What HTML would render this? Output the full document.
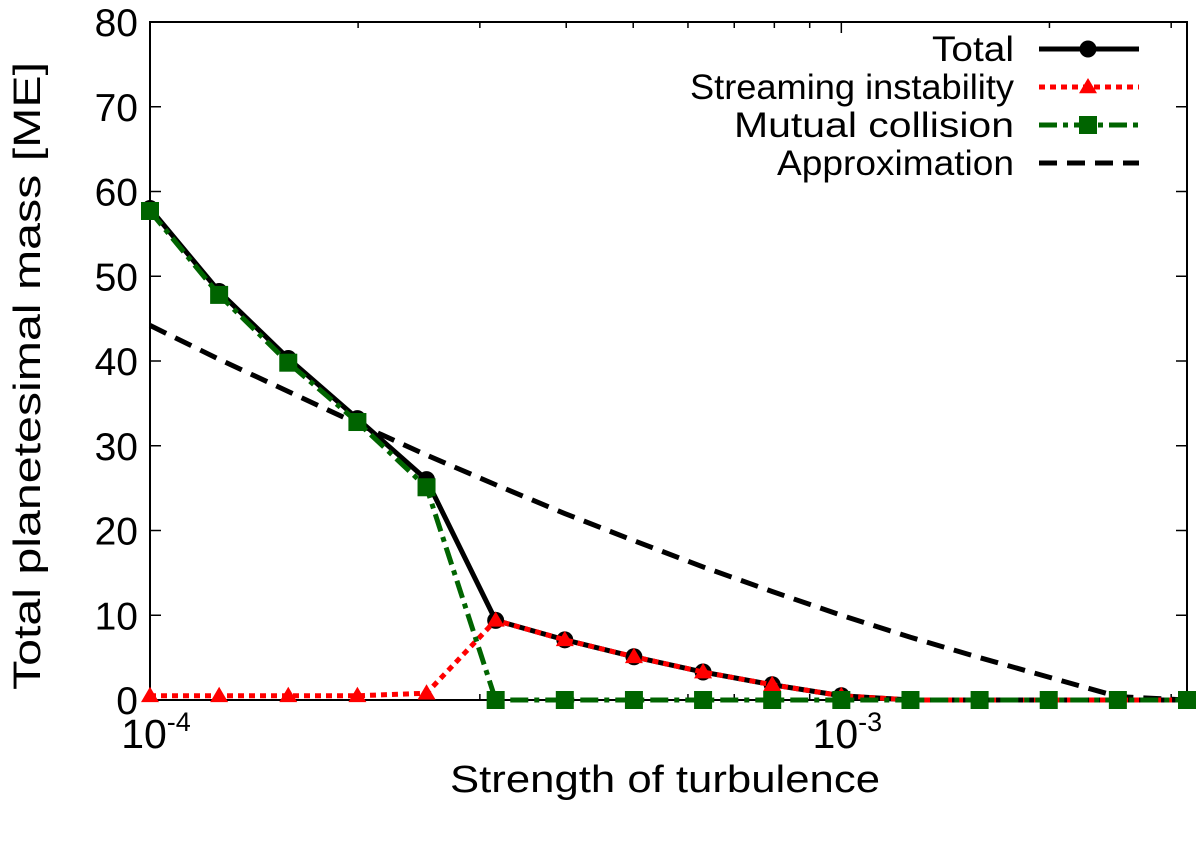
<!DOCTYPE html>
<html><head><meta charset="utf-8"><style>
body{margin:0;background:#fff}
svg text{font-family:"Liberation Sans",sans-serif;fill:#000}
</style></head><body>
<svg id="c" width="1200" height="840"></svg>
<script>
const alphaExp=[-4,-3.9,-3.8,-3.7,-3.6,-3.5,-3.4,-3.3,-3.2,-3.1,-3.0,-2.9,-2.8,-2.7,-2.6,-2.5];
const totalVals=[58,48.2,40.3,33.2,26,9.4,7.1,5.1,3.3,1.8,0.5,0,0,0,0,0];
const streamVals=[0.5,0.5,0.5,0.5,0.8,9.4,7.1,5.1,3.3,1.8,0.5,0,0,0,0,0];
const mutualVals=[57.7,47.8,39.8,32.8,25.1,0,0,0,0,0,0,0,0,0,0,0];
const approxVals=[44.2,40.2,36.4,32.6,28.9,25.4,22,18.8,15.7,12.8,10,7.4,5,2.7,0.4,0];
const yTicks=[0,10,20,30,40,50,60,70,80];
const L=150,R=1187,T=22,B=700;
const xs=e=>L+(e+4)/1.5*(R-L);
const ys=v=>B-v/80*(B-T);
const svg=document.getElementById('c');
const NS='http://www.w3.org/2000/svg';
function mk(t,a,p){const e=document.createElementNS(NS,t);for(const k in a)e.setAttribute(k,a[k]);(p||svg).appendChild(e);return e;}
let e;
e=mk('rect',{x:L,y:T,width:R-L,height:B-T,fill:'none',stroke:'#000','stroke-width':2});


yTicks.forEach(v=>{const y=ys(v);
 mk('line',{x1:L,x2:L+11,y1:y,y2:y,stroke:'#000','stroke-width':1.5});
 mk('line',{x1:R-11,x2:R,y1:y,y2:y,stroke:'#000','stroke-width':1.5});
 e=mk('text',{x:L-12,y:y+14,'text-anchor':'end','font-size':39});e.textContent=v;
 
 
});
for(let d=-4;d<=-3;d++)for(let m=1;m<=9;m++){const ex=d+Math.log10(m);if(ex>-2.5||ex<-4)continue;
 const x=xs(ex),len=m==1?11:6;
 mk('line',{x1:x,x2:x,y1:B,y2:B-len,stroke:'#000','stroke-width':1.5});
 mk('line',{x1:x,x2:x,y1:T,y2:T+len,stroke:'#000','stroke-width':1.5});}
[[-4,'-4'],[-3,'-3']].forEach(([ex,s])=>{e=mk('text',{x:xs(ex)+6,y:B+48,'text-anchor':'middle','font-size':41});
 e.innerHTML='10<tspan dy="-17" font-size="27">'+s+'</tspan>';
 
 });
e=mk('text',{x:450,y:792,'font-size':38,textLength:430,lengthAdjust:'spacingAndGlyphs'});e.textContent='Strength of turbulence';


e=mk('text',{x:0,y:0,'font-size':38,textLength:628,lengthAdjust:'spacingAndGlyphs',transform:'translate(40,690) rotate(-90)'});e.textContent='Total planetesimal mass [ME]';


function pts(vals){return vals.map((v,i)=>xs(alphaExp[i])+','+ys(v)).join(' ');}
e=mk('polyline',{points:pts(approxVals),fill:'none',stroke:'#000','stroke-width':5,'stroke-dasharray':'18,10'});


e=mk('polyline',{points:pts(totalVals),fill:'none',stroke:'#000','stroke-width':5});


totalVals.forEach((v,i)=>{e=mk('circle',{cx:xs(alphaExp[i]),cy:ys(v),r:8.5,fill:'#000'});
 
 });
e=mk('polyline',{points:pts(streamVals),fill:'none',stroke:'#f00','stroke-width':5,'stroke-dasharray':'6,5'});


function tri(x,y,s){return (x)+','+(y-s)+' '+(x-s)+','+(y+s*0.7)+' '+(x+s)+','+(y+s*0.7);}
streamVals.forEach((v,i)=>{e=mk('polygon',{points:tri(xs(alphaExp[i]),ys(v),9),fill:'#f00'});
 
 });
e=mk('polyline',{points:pts(mutualVals),fill:'none',stroke:'#006400','stroke-width':5,'stroke-dasharray':'18,6,5,6'});


mutualVals.forEach((v,i)=>{e=mk('rect',{x:xs(alphaExp[i])-9,y:ys(v)-9,width:18,height:18,fill:'#006400'});
 
 });
const leg=[['Total','#000',null,'circle',82],['Streaming instability','#f00','6,5','tri',324],['Mutual collision','#006400','18,6,5,6','sq',280],['Approximation','#000','18,10',null,237]];
leg.forEach((l,k)=>{const y=49+k*38;const g=mk('g',{});
 
 
 const t=mk('text',{x:1014-l[4],y:y+12,'font-size':35,textLength:l[4],lengthAdjust:'spacingAndGlyphs'},g);t.textContent=l[0];
 const a={x1:1039,x2:1139,y1:y,y2:y,stroke:l[1],'stroke-width':5};if(l[2])a['stroke-dasharray']=l[2];mk('line',a,g);
 if(l[3]=='circle')mk('circle',{cx:1088,cy:y,r:8.5,fill:l[1]},g);
 if(l[3]=='tri')mk('polygon',{points:tri(1088,y,9),fill:l[1]},g);
 if(l[3]=='sq')mk('rect',{x:1079,y:y-9,width:18,height:18,fill:l[1]},g);
});
</script>
</body></html>
